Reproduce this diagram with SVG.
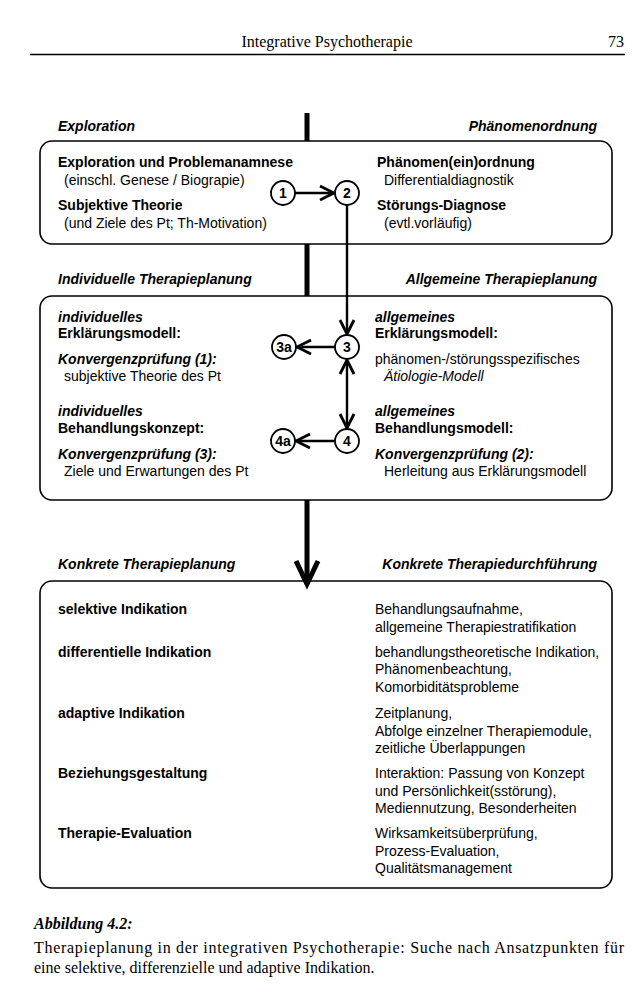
<svg xmlns="http://www.w3.org/2000/svg" width="635" height="994" viewBox="0 0 635 994">
<style>
.t{font-family:"Liberation Sans",Arial,sans-serif;font-size:14px;fill:#000}
.b{font-weight:bold}
.i{font-style:italic}
.s{font-family:"Liberation Serif","Times New Roman",serif;font-size:16px;fill:#000}
.box{fill:none;stroke:#000;stroke-width:1.6}
.c{fill:#fff;stroke:#000;stroke-width:1.8}
.n{font-family:"Liberation Sans",Arial,sans-serif;font-size:14px;font-weight:bold;text-anchor:middle}
.ln{fill:none;stroke:#000;stroke-width:2.4}
.thick{fill:none;stroke:#000;stroke-width:5}
</style>
<defs>
<marker id="v" viewBox="0 0 18 18" refX="16" refY="9" markerWidth="18" markerHeight="18" markerUnits="userSpaceOnUse" orient="auto-start-reverse">
<path d="M2,2 L16,9 L2,16" fill="none" stroke="#000" stroke-width="2.8"/>
</marker>
</defs>
<g id="header">
<text class="s" x="327" y="47" text-anchor="middle">Integrative Psychotherapie</text>
<text class="s" x="624" y="47" text-anchor="end">73</text>
<line x1="30" y1="54.5" x2="625" y2="54.5" stroke="#000" stroke-width="1.6"/>
</g>
<g id="connectors">
<line class="thick" x1="307" y1="113" x2="307" y2="141"/>
<line class="thick" x1="307" y1="244" x2="307" y2="296"/>
<line class="thick" x1="307" y1="500" x2="307" y2="580"/>
<path d="M296,561 L307,584 L318,561" fill="none" stroke="#000" stroke-width="5" stroke-linejoin="miter"/>
<line class="ln" x1="295" y1="193" x2="334" y2="193" marker-end="url(#v)"/>
<line class="ln" x1="347" y1="205" x2="347" y2="334" marker-end="url(#v)"/>
<line class="ln" x1="335" y1="347" x2="297" y2="347" marker-end="url(#v)"/>
<line class="ln" x1="347" y1="360" x2="347" y2="428" marker-start="url(#v)" marker-end="url(#v)"/>
<line class="ln" x1="335" y1="441" x2="296" y2="441" marker-end="url(#v)"/>
</g>
<g id="section1">
<text class="t b i" x="58" y="131">Exploration</text>
<text class="t b i" x="597" y="131" text-anchor="end">Phänomenordnung</text>
<rect class="box" x="40" y="141" width="572" height="103" rx="12"/>
<text class="t b" x="58" y="167">Exploration und Problemanamnese</text>
<text class="t" x="64" y="185">(einschl. Genese / Biograpie)</text>
<text class="t b" x="58" y="210">Subjektive Theorie</text>
<text class="t" x="64" y="228">(und Ziele des Pt; Th-Motivation)</text>
<text class="t b" x="377" y="167">Phänomen(ein)ordnung</text>
<text class="t" x="384" y="185">Differentialdiagnostik</text>
<text class="t b" x="377" y="210">Störungs-Diagnose</text>
<text class="t" x="384" y="228">(evtl.vorläufig)</text>
</g>
<g id="n1"><circle class="c" cx="283" cy="193" r="12"/><text class="n" x="283" y="198">1</text></g>
<g id="n2"><circle class="c" cx="347" cy="193" r="12"/><text class="n" x="347" y="198">2</text></g>
<g id="section2">
<text class="t b i" x="58" y="284">Individuelle Therapieplanung</text>
<text class="t b i" x="597" y="284" text-anchor="end">Allgemeine Therapieplanung</text>
<rect class="box" x="40" y="296" width="572" height="204" rx="12"/>
<text class="t b i" x="58" y="322">individuelles</text>
<text class="t b" x="58" y="338">Erklärungsmodell:</text>
<text class="t b i" x="58" y="364">Konvergenzprüfung (1):</text>
<text class="t" x="64" y="381">subjektive Theorie des Pt</text>
<text class="t b i" x="58" y="416">individuelles</text>
<text class="t b" x="58" y="433">Behandlungskonzept:</text>
<text class="t b i" x="58" y="459">Konvergenzprüfung (3):</text>
<text class="t" x="64" y="476">Ziele und Erwartungen des Pt</text>
<text class="t b i" x="375" y="322">allgemeines</text>
<text class="t b" x="375" y="338">Erklärungsmodell:</text>
<text class="t" x="375" y="364">phänomen-/störungsspezifisches</text>
<text class="t i" x="384" y="381">Ätiologie-Modell</text>
<text class="t b i" x="375" y="416">allgemeines</text>
<text class="t b" x="375" y="433">Behandlungsmodell:</text>
<text class="t b i" x="375" y="459">Konvergenzprüfung (2):</text>
<text class="t" x="384" y="476">Herleitung aus Erklärungsmodell</text>
</g>
<g id="n3"><circle class="c" cx="347" cy="347" r="12"/><text class="n" x="347" y="352">3</text></g>
<g id="n3a"><circle class="c" cx="284" cy="347" r="12"/><text class="n" x="284" y="352">3a</text></g>
<g id="n4"><circle class="c" cx="347" cy="441" r="12"/><text class="n" x="347" y="446">4</text></g>
<g id="n4a"><circle class="c" cx="283" cy="441" r="12"/><text class="n" x="283" y="446">4a</text></g>
<g id="section3">
<text class="t b i" x="58" y="569">Konkrete Therapieplanung</text>
<text class="t b i" x="597" y="569" text-anchor="end">Konkrete Therapiedurchführung</text>
<rect class="box" x="40" y="581" width="572" height="307" rx="12"/>
<text class="t b" x="58" y="614">selektive Indikation</text>
<text class="t b" x="58" y="657">differentielle Indikation</text>
<text class="t b" x="58" y="718">adaptive Indikation</text>
<text class="t b" x="58" y="778">Beziehungsgestaltung</text>
<text class="t b" x="58" y="838">Therapie-Evaluation</text>
<text class="t" x="375" y="614">Behandlungsaufnahme,</text>
<text class="t" x="375" y="632">allgemeine Therapiestratifikation</text>
<text class="t" x="375" y="657">behandlungstheoretische Indikation,</text>
<text class="t" x="375" y="674">Phänomenbeachtung,</text>
<text class="t" x="375" y="692">Komorbiditätsprobleme</text>
<text class="t" x="375" y="718">Zeitplanung,</text>
<text class="t" x="375" y="736">Abfolge einzelner Therapiemodule,</text>
<text class="t" x="375" y="753">zeitliche Überlappungen</text>
<text class="t" x="375" y="778">Interaktion: Passung von Konzept</text>
<text class="t" x="375" y="796">und Persönlichkeit(sstörung),</text>
<text class="t" x="375" y="813">Mediennutzung, Besonderheiten</text>
<text class="t" x="375" y="838">Wirksamkeitsüberprüfung,</text>
<text class="t" x="375" y="856">Prozess-Evaluation,</text>
<text class="t" x="375" y="873">Qualitätsmanagement</text>
</g>
<g id="caption">
<text class="s" x="34" y="929" font-weight="bold" font-style="italic">Abbildung 4.2:</text>
<text class="s" x="34" y="953" textLength="590" lengthAdjust="spacing">Therapieplanung in der integrativen Psychotherapie: Suche nach Ansatzpunkten für</text>
<text class="s" x="34" y="973">eine selektive, differenzielle und adaptive Indikation.</text>
</g>
</svg>
